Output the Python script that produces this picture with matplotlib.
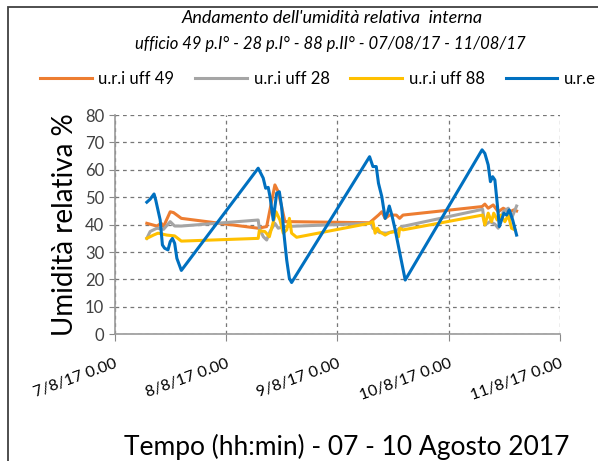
import datetime as dt
import matplotlib
matplotlib.use('Agg')
import matplotlib.pyplot as plt
from matplotlib.patches import Rectangle

# time in days from 07/08/17 00:00
t_49 = [0.29, 0.38, 0.42, 0.44, 0.50, 0.53, 0.60, 1.29, 1.366, 1.41, 1.44, 1.47, 1.50, 1.53,
        1.57, 2.29, 2.37, 2.40, 2.43, 2.47, 2.53, 2.56, 2.59, 3.30, 3.325, 3.355, 3.40, 3.445,
        3.49, 3.55, 3.586, 3.61]
uri_49 = [40.5, 39.5, 40.5, 39.3, 44.7, 44.4, 42.3, 38.7, 39.3, 48.4, 54.5, 52.0, 46.6, 41.1,
          41.1, 40.7, 43.5, 44.7, 42.3, 43.5, 43.5, 42.3, 43.5, 46.6, 47.5, 46.0, 47.2, 44.7,
          46.0, 44.7, 45.4, 45.0]

t_28 = [0.29, 0.32, 0.38, 0.44, 0.50, 0.54, 0.60, 1.29, 1.30, 1.336, 1.366, 1.396, 1.44, 1.47,
        1.515, 2.31, 2.32, 2.38, 2.44, 2.53, 2.58, 3.305, 3.325, 3.37, 3.415, 3.445, 3.49,
        3.535, 3.565, 3.61]
uri_28 = [35.0, 37.5, 38.7, 38.3, 41.1, 39.5, 39.5, 41.7, 38.7, 35.6, 34.4, 37.5, 40.5, 38.7,
          39.3, 40.5, 38.7, 37.1, 36.9, 37.8, 39.3, 45.6, 39.9, 41.1, 40.2, 38.7, 44.7,
          46.0, 42.3, 46.8]

t_88 = [0.29, 0.35, 0.39, 0.47, 0.54, 0.60, 1.29, 1.30, 1.35, 1.39, 1.41, 1.45, 1.485, 1.515,
        1.546, 1.57, 1.59, 1.635, 2.29, 2.32, 2.34, 2.36, 2.38, 2.43, 2.47, 2.52, 2.55, 2.56,
        2.59, 3.305, 3.325, 3.355, 3.385, 3.405, 3.436, 3.467, 3.505, 3.535, 3.565, 3.595]
uri_88 = [35.0, 36.2, 36.9, 36.2, 35.9, 34.0, 35.0, 37.8, 37.5, 35.6, 38.7, 44.7, 41.7, 36.9,
          38.1, 42.3, 36.9, 35.4, 40.5, 41.1, 36.9, 38.7, 37.5, 36.2, 37.1, 37.5, 35.6, 38.7,
          38.1, 43.5, 39.9, 44.2, 41.1, 44.2, 41.7, 43.5, 41.1, 43.5, 38.7, 38.1]

t_ext = [0.29, 0.32, 0.355, 0.37, 0.41, 0.43, 0.45, 0.48, 0.50, 0.52, 0.54, 0.56, 0.60, 1.29,
         1.335, 1.357, 1.38, 1.396, 1.425, 1.456, 1.48, 1.50, 1.524, 1.546, 1.57, 1.59, 2.29,
         2.32, 2.35, 2.37, 2.40, 2.43, 2.45, 2.467, 2.49, 2.52, 2.55, 2.61, 3.30, 3.325,
         3.355, 3.375, 3.395, 3.415, 3.436, 3.455, 3.475, 3.496, 3.52, 3.544, 3.575, 3.61]
ure = [48.2, 49.3, 51.2, 49.0, 41.7, 32.6, 31.4, 30.8, 33.8, 35.0, 33.2, 27.7, 23.3, 60.6,
       57.0, 53.3, 53.6, 50.2, 41.7, 51.5, 52.0, 46.6, 35.6, 27.1, 20.4, 18.9, 64.8,
       61.2, 61.2, 55.1, 50.2, 42.3, 44.2, 46.8, 43.5, 38.1, 32.0, 19.8, 67.3, 66.0,
       61.8, 55.7, 57.5, 56.3, 47.8, 39.3, 41.7, 44.2, 43.5, 45.4, 41.7, 36.2]

tick_labels = ['7/8/17 0.00', '8/8/17 0.00', '9/8/17 0.00', '10/8/17 0.00', '11/8/17 0.00']

start = dt.datetime(2017, 8, 7)


def to_dates(days):
    return [start + dt.timedelta(days=d) for d in days]


plt.rcParams['font.family'] = ['Lato', 'DejaVu Sans']

fig = plt.figure(figsize=(5.98, 4.61), dpi=100)
ax = fig.add_axes([0.1915, 0.2748, 0.745, 0.4757])

ax.plot(to_dates(t_49), uri_49, color='#ED7D31', lw=2.2, label='u.r.i uff 49')
ax.plot(to_dates(t_28), uri_28, color='#A5A5A5', lw=2.2, label='u.r.i uff 28')
ax.plot(to_dates(t_88), uri_88, color='#FFC000', lw=2.2, label='u.r.i uff 88')
ax.plot(to_dates(t_ext), ure, color='#0070C0', lw=2.2, label='u.r.e')

ticks = to_dates(range(5))
ax.set_xlim(ticks[0], ticks[-1])
ax.set_xticks(ticks)
ax.set_xticklabels(tick_labels, rotation=20, ha='right', rotation_mode='anchor', fontsize=11.5)
ax.set_ylim(0, 80)
ax.set_yticks(range(0, 81, 10))
ax.tick_params(axis='y', labelsize=12, colors='#404040', length=4, color='#888888')
ax.tick_params(axis='x', length=5, color='#888888', labelcolor='#000000', pad=11)

ax.grid(True, linestyle=(0, (3, 3)), color='#777777', lw=0.9)
for s in ['top', 'right']:
    ax.spines[s].set_visible(False)
for s in ['left', 'bottom']:
    ax.spines[s].set_color('#999999')
    ax.spines[s].set_linewidth(1.2)

ax.set_ylabel('Umidità relativa %', fontsize=20, labelpad=5)
ax.set_xlabel('Tempo (hh:min) - 07 - 10 Agosto 2017', fontsize=19)
ax.xaxis.set_label_coords(0.522, -0.455)

fig.text(0.555, 0.96, "Andamento dell'umidità relativa  interna", ha='center', va='center',
         style='italic', fontsize=13)
fig.text(0.553, 0.905, "ufficio 49 p.I° - 28 p.I° - 88 p.II° - 07/08/17 - 11/08/17",
         ha='center', va='center', style='italic', fontsize=12)

fig.legend(loc='center left', bbox_to_anchor=(0.042, 0.828), ncol=4, frameon=False,
           fontsize=12, handlelength=3.1, columnspacing=1.25, handletextpad=0.4)

fig.patches.append(Rectangle((8 / 598, -0.1), 1.2, 1 - 7 / 461 + 0.1, transform=fig.transFigure,
                             fill=False, edgecolor='#404040', lw=1.3))

fig.savefig('out.png', dpi=100)
